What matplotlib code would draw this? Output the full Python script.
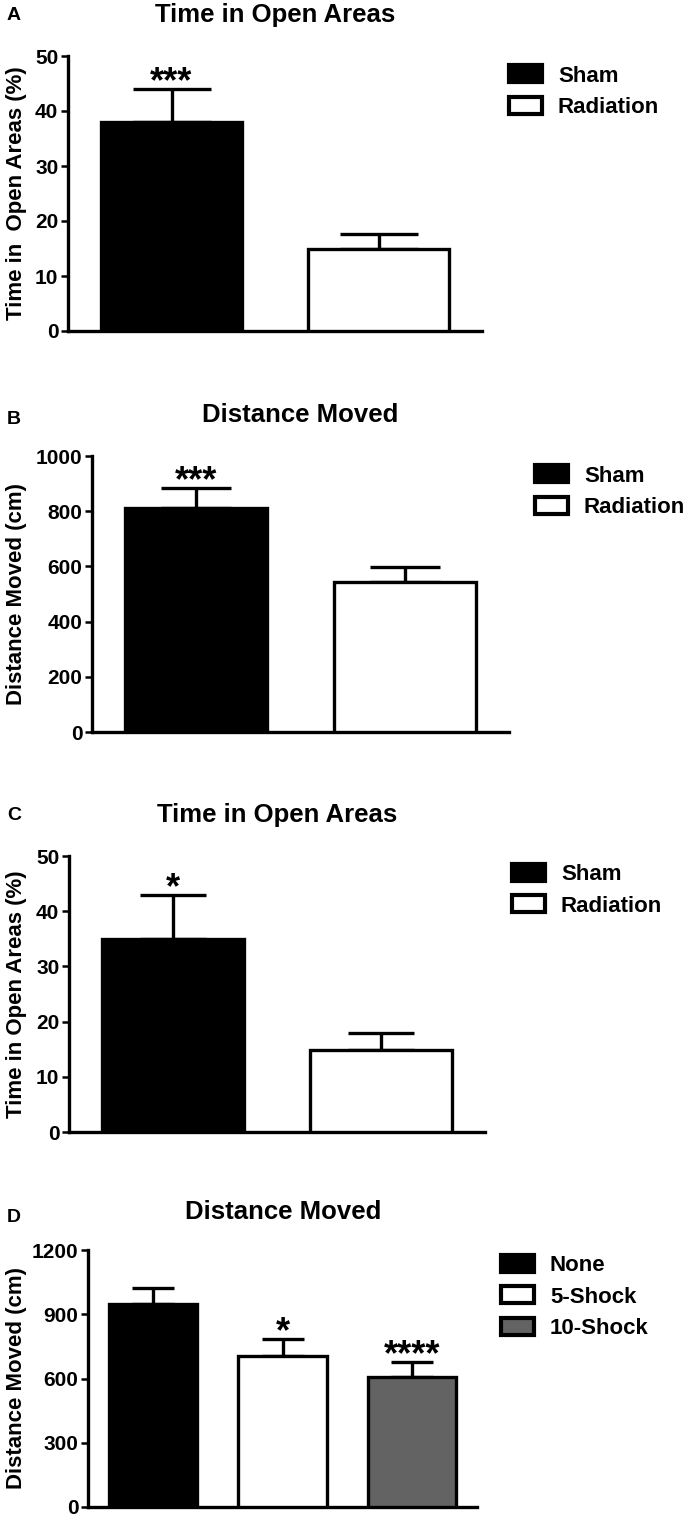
import matplotlib.pyplot as plt

plt.rcParams['font.family'] = ['Liberation Sans', 'DejaVu Sans']
plt.rcParams['font.weight'] = 'bold'

# panel A / C groups
groups_ab = ['Sham', 'Radiation']
colors_ab = ['black', 'white']

time_open_a = [38.0, 15.0]
time_open_a_sem = [6.0, 2.7]
stars_a = ['***', '']

dist_b = [812, 545]
dist_b_sem = [72, 52]
stars_b = ['***', '']

time_open_c = [35.0, 14.9]
time_open_c_sem = [7.9, 3.0]
stars_c = ['*', '']

# panel D groups
groups_d = ['None', '5-Shock', '10-Shock']
colors_d = ['black', 'white', '#636363']
dist_d = [950, 705, 607]
dist_d_sem = [72, 81, 70]
stars_d = ['', '*', '****']

W, H = 686, 1519
fig = plt.figure(figsize=(W / 100, H / 100), dpi=100)


def px_axes(left, right, top, bottom):
    return fig.add_axes([left / W, 1 - bottom / H, (right - left) / W, (bottom - top) / H])


def panel(ax, letter, title, ylabel, labels, colors, vals, sems, stars,
          yticks, cap, title_xy, letter_y, label_y, leg_xy):
    x = list(range(len(vals)))
    ax.bar(x, vals, width=0.68, color=colors, edgecolor='black', linewidth=2.4, zorder=3,
           label=labels)
    ax.errorbar(x, vals, yerr=[[0] * len(vals), sems], fmt='none', ecolor='black',
                elinewidth=2.4, capsize=cap, capthick=2.4, zorder=2)
    for xi, v, s, st in zip(x, vals, sems, stars):
        if st:
            ax.annotate(st, (xi, v + s), xytext=(0, -8), textcoords='offset points',
                        ha='center', va='bottom', fontsize=26, fontweight='bold')
    ax.set_xlim(-0.5, len(vals) - 0.5)
    ax.set_ylim(0, yticks[-1])
    ax.set_yticks(yticks)
    ax.set_xticks([])
    ax.tick_params(axis='y', length=5, width=1.8, labelsize=15, pad=2)
    for sp in ['top', 'right']:
        ax.spines[sp].set_visible(False)
    for sp in ['left', 'bottom']:
        ax.spines[sp].set_linewidth(2.4)
    ax.set_ylabel(ylabel, fontsize=16, fontweight='bold')
    ax.yaxis.set_label_coords(27 / W, 1 - label_y / H, transform=fig.transFigure)
    fig.text(title_xy[0] / W, 1 - title_xy[1] / H, title, ha='center', va='center',
             fontsize=18.5, fontweight='bold')
    fig.text(14 / W, 1 - letter_y / H, letter, ha='center', va='center',
             fontsize=14, fontweight='bold')
    leg = ax.legend(loc='center left', bbox_to_anchor=(leg_xy[0] / W, 1 - leg_xy[1] / H),
                    bbox_transform=fig.transFigure, frameon=False, fontsize=16,
                    handlelength=1.5, handleheight=0.8, handletextpad=0.7,
                    labelspacing=0.45, borderpad=0, borderaxespad=0)
    for h in leg.legend_handles:
        h.set_linewidth(3)


axA = px_axes(68, 482, 56, 331)
panel(axA, 'A', 'Time in Open Areas', 'Time in  Open Areas (%)', groups_ab, colors_ab,
      time_open_a, time_open_a_sem, stars_a, [0, 10, 20, 30, 40, 50], 28,
      (275, 15), 15, 193, (509, 91.5))

axB = px_axes(92, 509, 456, 732)
panel(axB, 'B', 'Distance Moved', 'Distance Moved (cm)', groups_ab, colors_ab,
      dist_b, dist_b_sem, stars_b, [0, 200, 400, 600, 800, 1000], 25,
      (300, 415), 420, 594, (535, 491.5))

axC = px_axes(69, 485, 856, 1132)
panel(axC, 'C', 'Time in Open Areas', 'Time in Open Areas (%)', groups_ab, colors_ab,
      time_open_c, time_open_c_sem, stars_c, [0, 10, 20, 30, 40, 50], 24,
      (277, 815), 815, 994, (512, 890.5))

axD = px_axes(88, 477, 1250, 1507)
panel(axD, 'D', 'Distance Moved', 'Distance Moved (cm)', groups_d, colors_d,
      dist_d, dist_d_sem, stars_d, [0, 300, 600, 900, 1200], 15,
      (283, 1212), 1217, 1378, (501, 1297))

fig.savefig('out.png', dpi=100)
